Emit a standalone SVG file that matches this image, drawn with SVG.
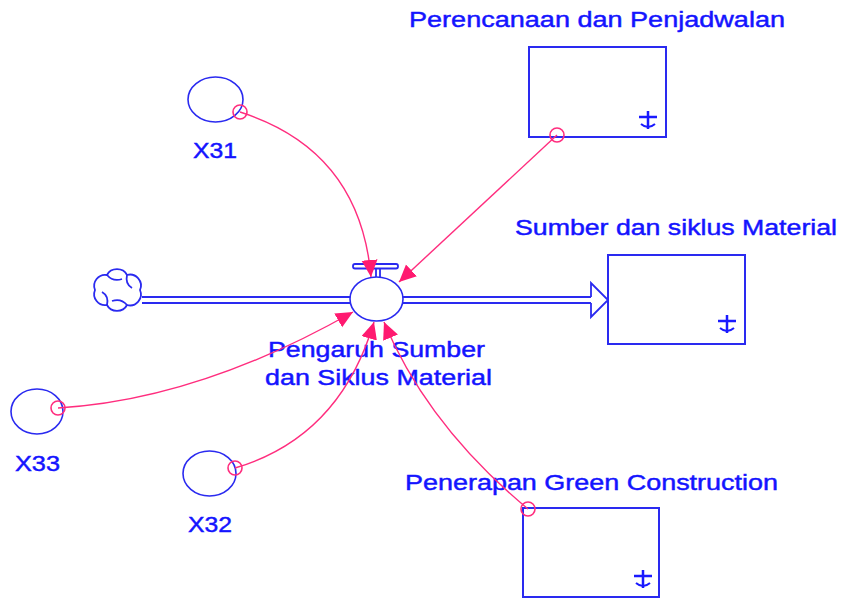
<svg xmlns="http://www.w3.org/2000/svg" width="844" height="599" viewBox="0 0 844 599">
<style>
.ln{fill:none;stroke:#2a2af0;stroke-width:1.8}
.box{fill:#fff;stroke:#2a2af0;stroke-width:2}
.aux{fill:#fff;stroke:#2a2af0;stroke-width:1.6}
.lbl{font-family:"Liberation Sans",Arial,sans-serif;font-size:22px;fill:#1414ff;stroke:#1414ff;stroke-width:0.45}
.con{fill:none;stroke:#ff2d7e;stroke-width:1.4}
.dot{fill:none;stroke:#ff2d7e;stroke-width:1.6}
.anc{fill:none;stroke:#1a1aff;stroke-width:2.5}
</style>
<defs>
<marker id="ah" markerUnits="userSpaceOnUse" markerWidth="18" markerHeight="18" refX="17" refY="8" orient="auto">
<path d="M0,0 L17,8 L0,16 z" fill="#ff1a70"/>
</marker>
<g id="anchor">
<path class="anc" d="M-9,0 H9 M0,-6 V12"/>
<path fill="none" stroke="#1a1aff" stroke-width="2" d="M-7,7 Q0,13 7,7"/>
</g>
</defs>
<rect width="844" height="599" fill="#fff"/>

<g id="flow">
<path class="ln" d="M142,297 H351 M142,303 H351 M402,297 H591 M402,303 H591"/>
<path class="ln" fill="#fff" d="M591,297 V283 L608,300 L591,317 V303"/>
</g>

<g id="cloud">
<path class="ln" d="M107,275 a11,10 0 0 1 20,0 a11,11 0 0 1 13,15 a11,11 0 0 1 -13,15 a11,10 0 0 1 -20,0 a11,11 0 0 1 -12,-15 a11,11 0 0 1 12,-15 z"/>
<path class="ln" d="M107,275 q6,7 15,4 M127,275 q-2,9 5,13 M127,305 q-6,-7 -15,-4 M107,305 q2,-9 -5,-13"/>
</g>

<g id="valve">
<rect class="ln" x="353" y="264" width="45" height="4.5" rx="2" fill="#fff"/>
<path class="ln" d="M376,268.5 V278 M380,268.5 V278"/>
<ellipse class="aux" cx="376.5" cy="299" rx="26.5" ry="22"/>
<text class="lbl" x="268" y="357" textLength="217" lengthAdjust="spacingAndGlyphs">Pengaruh Sumber</text>
<text class="lbl" x="265" y="385" textLength="227" lengthAdjust="spacingAndGlyphs">dan Siklus Material</text>
</g>

<g id="perencanaan">
<rect class="box" x="529" y="47" width="137" height="90"/>
<use href="#anchor" x="648" y="117"/>
<text class="lbl" x="409" y="27" textLength="376" lengthAdjust="spacingAndGlyphs">Perencanaan dan Penjadwalan</text>
</g>

<g id="sumber">
<rect class="box" x="608" y="255" width="137" height="89"/>
<use href="#anchor" x="727" y="321"/>
<text class="lbl" x="515" y="235" textLength="322" lengthAdjust="spacingAndGlyphs">Sumber dan siklus Material</text>
</g>

<g id="penerapan">
<rect class="box" x="523" y="508" width="136" height="89"/>
<use href="#anchor" x="643" y="576"/>
<text class="lbl" x="405" y="490" textLength="373" lengthAdjust="spacingAndGlyphs">Penerapan Green Construction</text>
</g>

<g id="x31">
<ellipse class="aux" cx="215.5" cy="99.5" rx="27.5" ry="22.5"/>
<text class="lbl" x="193" y="158" textLength="44" lengthAdjust="spacingAndGlyphs">X31</text>
</g>
<g id="x33">
<ellipse class="aux" cx="37" cy="411.5" rx="26" ry="22.5"/>
<text class="lbl" x="15" y="471" textLength="45" lengthAdjust="spacingAndGlyphs">X33</text>
</g>
<g id="x32">
<ellipse class="aux" cx="209.5" cy="473.5" rx="26.5" ry="22.5"/>
<text class="lbl" x="188" y="532" textLength="44" lengthAdjust="spacingAndGlyphs">X32</text>
</g>

<g id="connectors">
<path class="con" marker-end="url(#ah)" d="M240,112 Q360,150 371,277"/>
<path class="con" marker-end="url(#ah)" d="M557,135 L399,282"/>
<path class="con" marker-end="url(#ah)" d="M58,408 Q198,400 353,312"/>
<path class="con" marker-end="url(#ah)" d="M235,468 Q340,437 374,322"/>
<path class="con" marker-end="url(#ah)" d="M528,509 Q427,425 384,322"/>
<circle class="dot" cx="240" cy="112" r="7"/>
<circle class="dot" cx="557" cy="135" r="7"/>
<circle class="dot" cx="58" cy="408" r="7"/>
<circle class="dot" cx="235" cy="468" r="7"/>
<circle class="dot" cx="528" cy="509" r="7"/>
</g>
</svg>
